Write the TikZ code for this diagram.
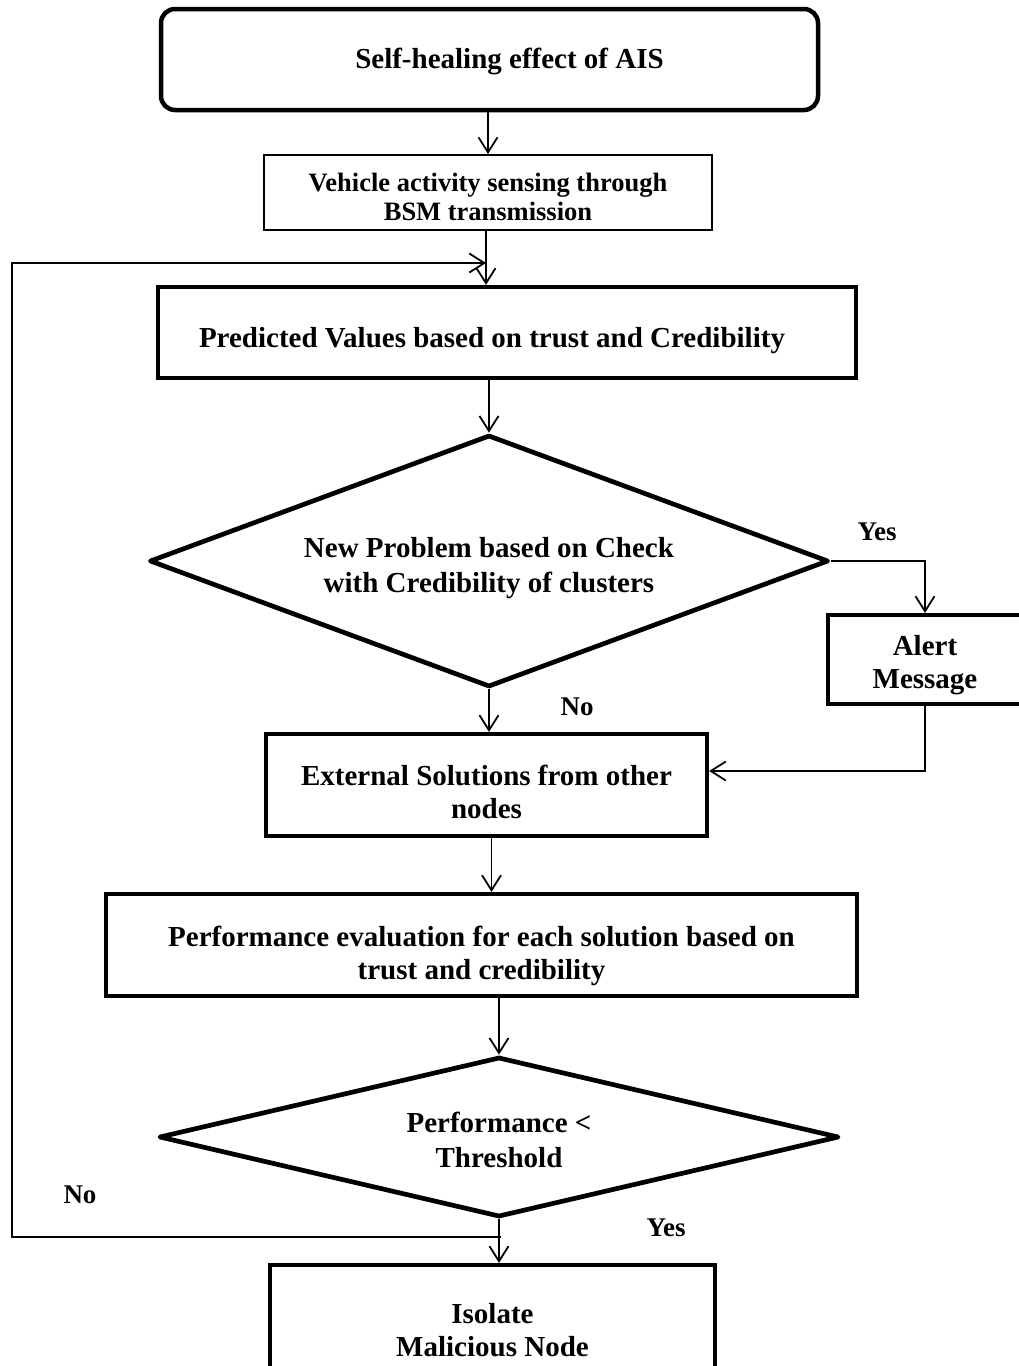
\documentclass[tikz,border=0pt]{standalone}
\usepackage{fontspec}
\setmainfont{Liberation Serif}
\usetikzlibrary{arrows.meta,shapes.geometric,calc}

\begin{document}
\begin{tikzpicture}[x=1pt,y=-1pt,
  every node/.style={font=\bfseries\fontsize{29}{33}\selectfont, align=center, inner sep=0pt},
  every label/.style={font=\bfseries\fontsize{29}{33}\selectfont, align=center, inner sep=0pt},
  thickbox/.style={draw, rectangle, line width=4.2pt, line join=miter},
  thinbox/.style={draw, rectangle, line width=2pt},
  decision/.style={draw, diamond, line width=4.7pt, line join=round},
  flow/.style={line width=1.8pt},
  conn/.style={flow, -{Straight Barb[length=15pt,width=19pt,line width=1.8pt]}},
  tag/.style={font=\bfseries\fontsize{27}{30}\selectfont}
]
\useasboundingbox (0,0) rectangle (1019,1366);
\fill[white] (0,0) rectangle (1019,1366);
\clip (0,0) rectangle (1019,1366);

% process steps (texts placed as centre labels so they can be nudged)
\node[draw, rectangle, rounded corners=14pt, line width=4.5pt,
      minimum width=657pt, minimum height=101pt,
      label={[xshift=20pt, yshift=-2pt]center:Self-healing effect of AIS}] (top) at (489.5,59.5) {};
\node[thinbox, minimum width=448pt, minimum height=75pt,
      label={[yshift=-4pt, font=\bfseries\fontsize{26.5}{29}\selectfont]center:Vehicle activity sensing through\\BSM transmission}] (vehicle) at (488,192.5) {};
\node[thickbox, minimum width=698pt, minimum height=91pt,
      label={[xshift=-15pt, yshift=-8pt]center:Predicted Values based on trust and Credibility}] (pred) at (507,332.5) {};
\node[decision, minimum width=679pt, minimum height=252pt,
      label={[yshift=-7pt, font=\bfseries\fontsize{29}{35}\selectfont]center:New Problem based on Check\\with Credibility of clusters}] (d1) at (489,561) {};
\node[thickbox, minimum width=194pt, minimum height=89pt,
      label={[yshift=-6pt]center:Alert\\Message}] (alert) at (925,659.5) {};
\node[thickbox, minimum width=441pt, minimum height=102pt,
      label={[yshift=-7pt]center:External Solutions from other\\nodes}] (ext) at (486.5,785) {};
\node[thickbox, minimum width=751pt, minimum height=102pt,
      label={[yshift=-11pt]center:Performance evaluation for each solution based on\\trust and credibility}] (perf) at (481.5,945) {};
\node[decision, minimum width=680pt, minimum height=160pt,
      label={[yshift=-3pt, font=\bfseries\fontsize{29}{35}\selectfont]center:Performance <\\Threshold}] (d2) at (499,1137) {};
\node[thickbox, minimum width=445pt, minimum height=130pt,
      label={center:Isolate\\Malicious Node}] (iso) at (492.5,1330) {};

% branch labels
\node[tag] (yes1) at (877,532) {Yes};
\node[tag] (no1) at (577,707) {No};
\node[tag] (no2) at (80,1195) {No};
\node[tag] (yes2) at (666,1228) {Yes};

% helper points of the feedback loop
\coordinate (fbBot) at (501,1237);
\coordinate (loopX) at (12,0);
\coordinate (fbTop) at (486,263);

% connectors
\draw[conn] (top.south -| vehicle.north) -- (vehicle.north);
\draw[conn] ([xshift=-2pt]vehicle.south) -- ([xshift=-2pt]vehicle.south |- pred.north);
\draw[conn] (fbBot) -- (fbBot -| loopX) |- (fbTop);
\draw[conn] (pred.south -| d1.north) -- (d1.north);
\draw[conn] (d1.south) -- (d1.south |- ext.north);
\draw[conn] (d1.east) -| (alert.north);
\draw[conn] (alert.south) |- ([yshift=14pt]ext.east);
\draw[conn] ([xshift=5pt]ext.south) -- ([xshift=5pt]ext.south |- perf.north);
\draw[conn] (perf.south -| d2.north) -- (d2.north);
\draw[conn] (d2.south) -- (d2.south |- iso.north);
\end{tikzpicture}
\end{document}
